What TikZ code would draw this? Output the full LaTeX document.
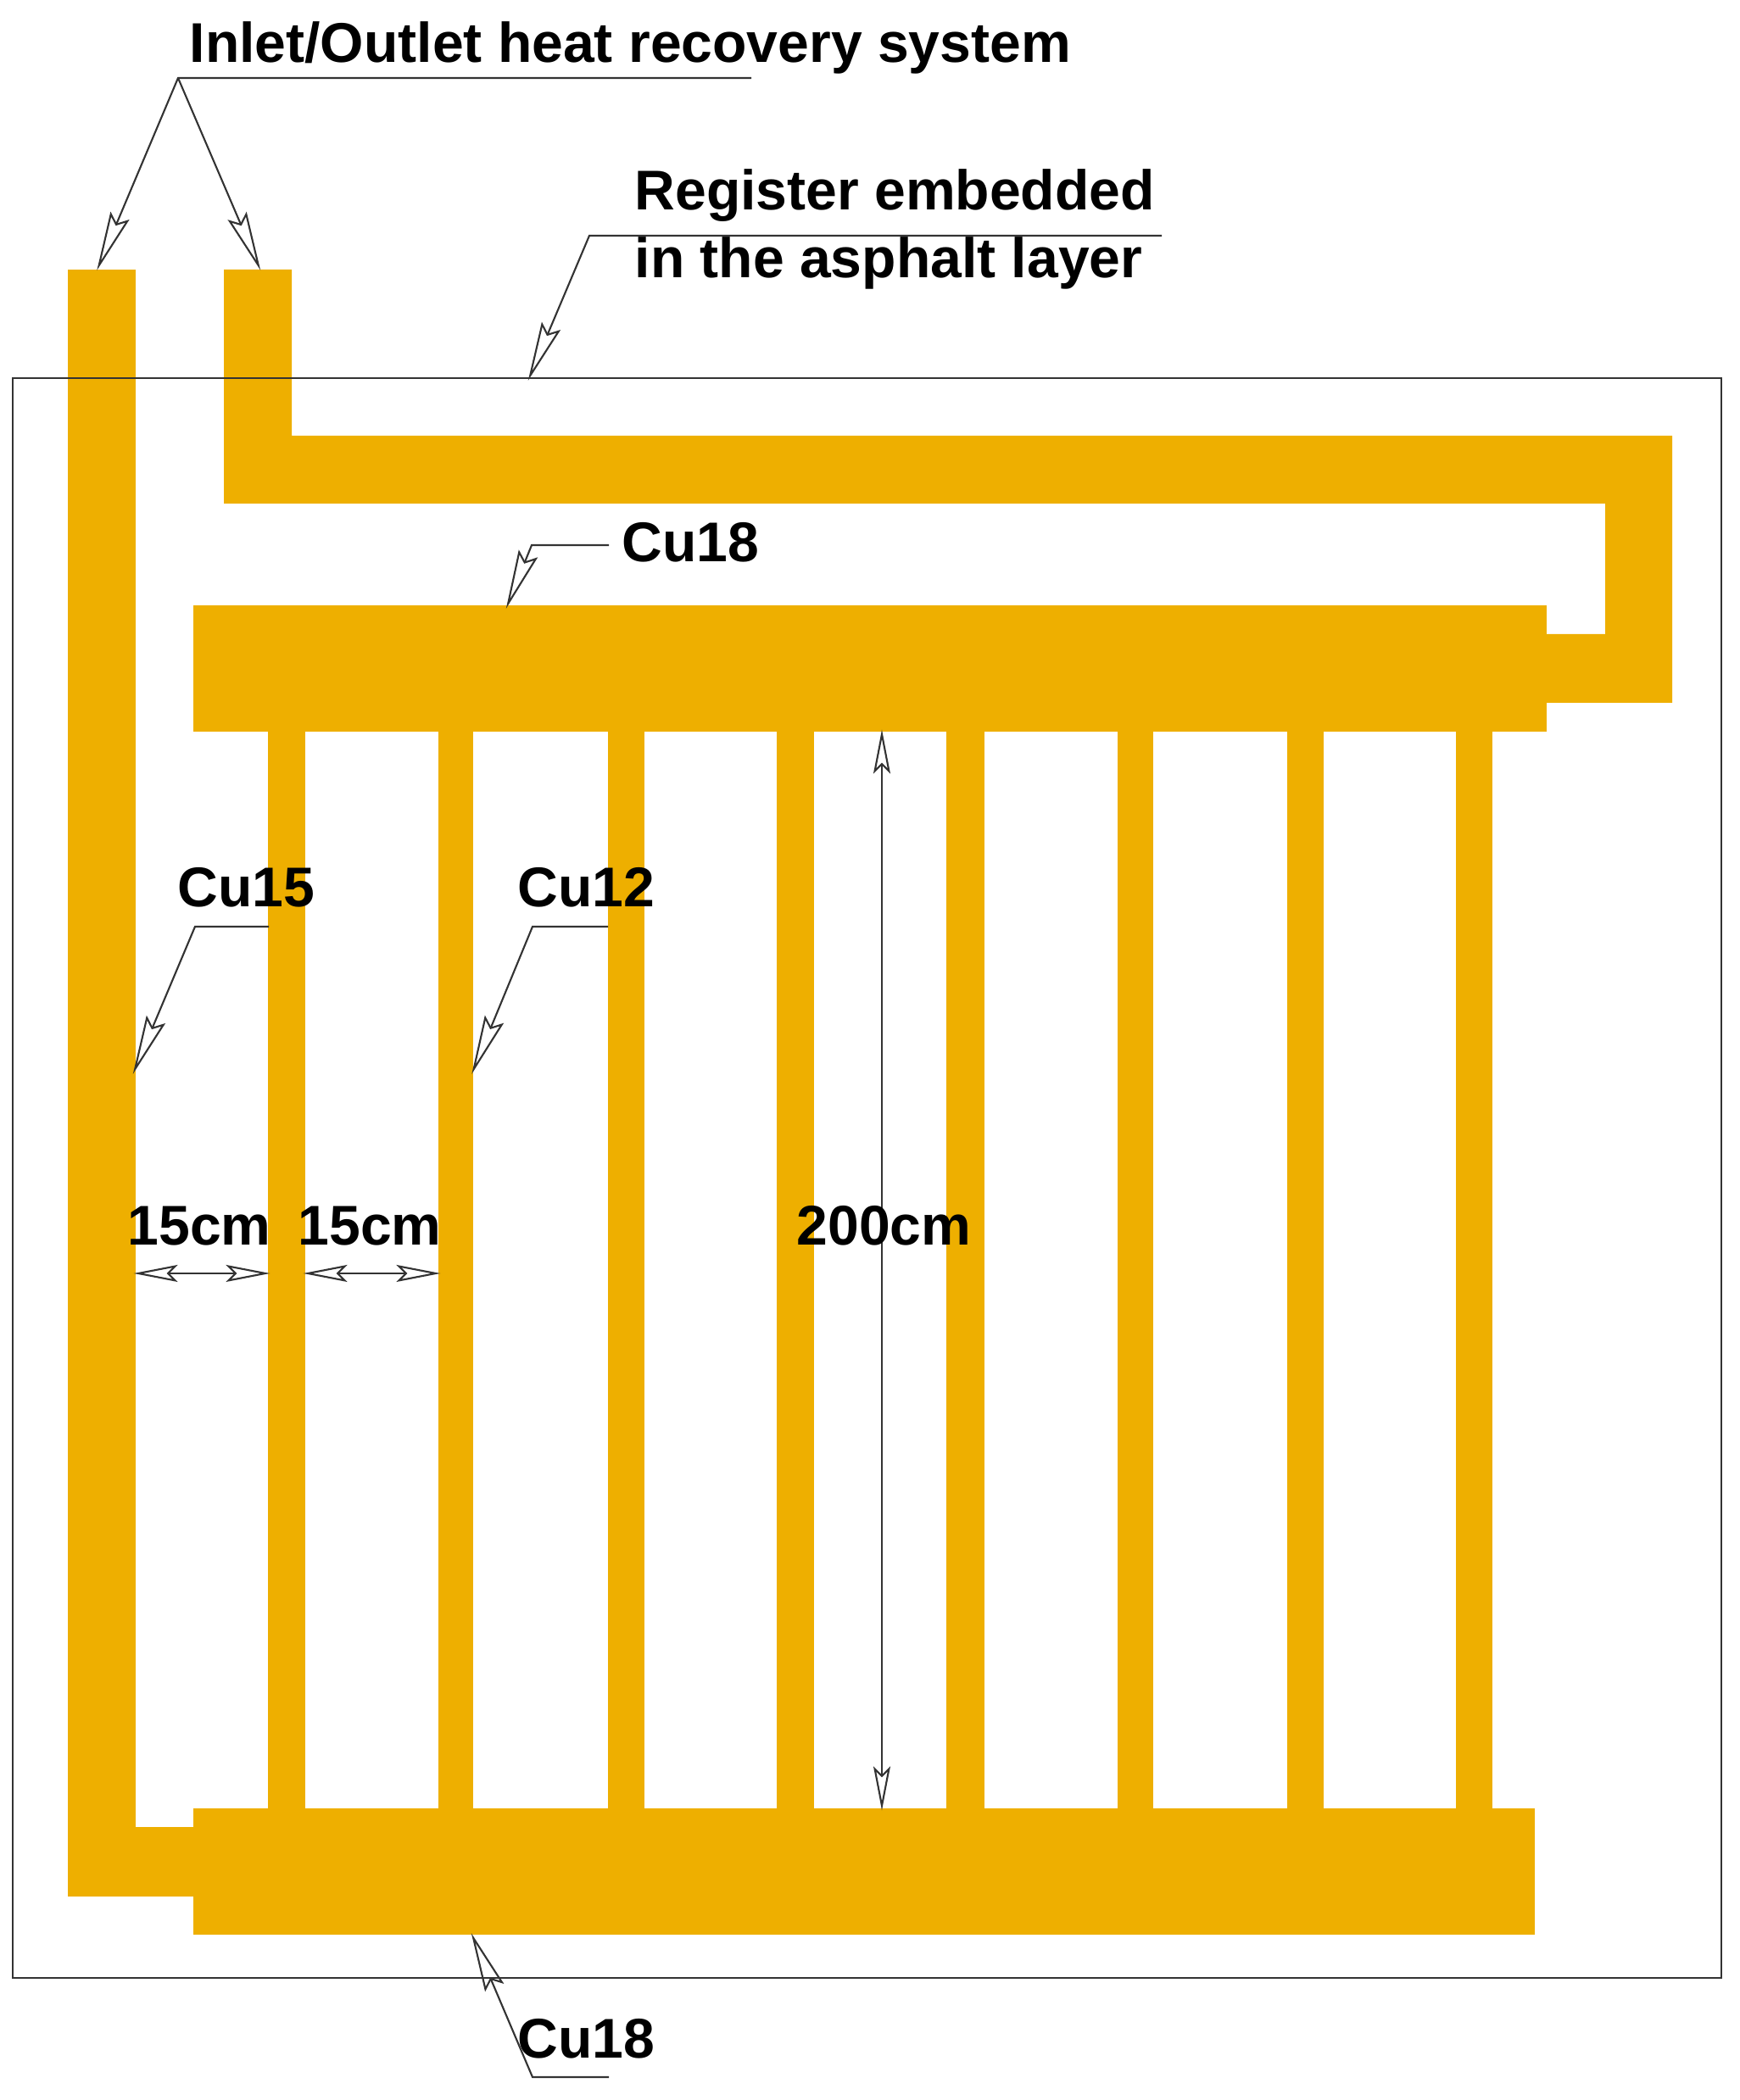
\documentclass[tikz,border=0pt]{standalone}
\usepackage{fontspec}
\setmainfont{Liberation Sans}
\usetikzlibrary{arrows.meta}
\definecolor{pipeorange}{RGB}{238,175,0}
\tikzset{
pipe/.style={fill=pipeorange},
thinline/.style={black!80,line width=0.6pt},
leader/.style={thinline,shorten >=-0.9pt,-{Stealth[open,length=7mm,width=2.4mm,inset=1mm]}},
dimline/.style={thinline,shorten >=-0.7pt,shorten <=-0.7pt,{Stealth[open,length=5.2mm,width=2mm,inset=1mm]}-{Stealth[open,length=5.2mm,width=2mm,inset=1mm]}},
tag/.style={anchor=base west,inner sep=0pt,font=\fontsize{18.8}{22}\selectfont\bfseries}
}
\begin{document}
\begin{tikzpicture}
\useasboundingbox (0,0) rectangle (20.51,24.77);
\fill [pipe] (0.80,21.59) rectangle (1.60,2.40);
\fill [pipe] (0.80,3.22) rectangle (2.28,2.40);
\fill [pipe] (2.64,21.59)--(3.44,21.59)--(3.44,19.63)--(19.72,19.63)--(19.72,16.48)--(18.24,16.48)--(18.24,17.29)--(18.93,17.29)--(18.93,18.83)--(2.64,18.83)--cycle;
\fill [pipe] (2.28,17.63) rectangle (18.24,16.14);
\fill [pipe] (2.28,3.44) rectangle (18.10,1.95);
\fill [pipe] (3.16,16.14) rectangle (3.60,3.44);
\fill [pipe] (5.17,16.14) rectangle (5.58,3.44);
\fill [pipe] (7.17,16.14) rectangle (7.60,3.44);
\fill [pipe] (9.16,16.14) rectangle (9.60,3.44);
\fill [pipe] (11.16,16.14) rectangle (11.61,3.44);
\fill [pipe] (13.18,16.14) rectangle (13.60,3.44);
\fill [pipe] (15.18,16.14) rectangle (15.61,3.44);
\fill [pipe] (17.17,16.14) rectangle (17.60,3.44);
\draw [thinline] (0.15,1.44) rectangle (20.30,20.31);
\coordinate (inletend) at (8.86,23.85);
\coordinate (inletapex) at (2.10,23.85);
\coordinate (inlettip) at (1.155,21.61);
\coordinate (outlettip) at (3.06,21.61);
\coordinate (regend) at (13.70,21.99);
\coordinate (regelbow) at (6.95,21.99);
\coordinate (regtip) at (6.24,20.31);
\coordinate (topend) at (7.18,18.34);
\coordinate (topelbow) at (6.27,18.34);
\coordinate (toptip) at (5.98,17.62);
\coordinate (cuaend) at (3.17,13.84);
\coordinate (cuaelbow) at (2.30,13.84);
\coordinate (cuatip) at (1.58,12.13);
\coordinate (cubend) at (7.17,13.84);
\coordinate (cubelbow) at (6.28,13.84);
\coordinate (cubtip) at (5.575,12.13);
\coordinate (lowend) at (7.18,0.27);
\coordinate (lowelbow) at (6.28,0.27);
\coordinate (lowtip) at (5.57,1.94);
\coordinate (dimaleft) at (1.60,9.75);
\coordinate (dimaright) at (3.16,9.75);
\coordinate (dimbleft) at (3.60,9.75);
\coordinate (dimbright) at (5.17,9.75);
\coordinate (dimtop) at (10.40,16.14);
\coordinate (dimlow) at (10.40,3.44);
\draw [leader] (inletend)--(inletapex)--(inlettip);
\draw [leader] (inletapex)--(outlettip);
\draw [leader] (regend)--(regelbow)--(regtip);
\draw [leader] (topend)--(topelbow)--(toptip);
\draw [leader] (cuaend)--(cuaelbow)--(cuatip);
\draw [leader] (cubend)--(cubelbow)--(cubtip);
\draw [leader] (lowend)--(lowelbow)--(lowtip);
\draw [dimline] (dimaleft)--(dimaright);
\draw [dimline] (dimbleft)--(dimbright);
\draw [dimline] (dimtop)--(dimlow);
\node (inlettag) [tag] at (2.23,24.03) {Inlet/Outlet heat recovery system};
\node (regtag) [tag] at (7.48,22.29) {Register embedded};
\node (asphalttag) [tag] at (7.48,21.49) {in the asphalt layer};
\node (toptag) [tag] at (7.33,18.14) {Cu18};
\node (cuatag) [tag] at (2.09,14.07) {Cu15};
\node (cubtag) [tag] at (6.10,14.07) {Cu12};
\node (lowtag) [tag] at (6.10,0.49) {Cu18};
\node (dimatag) [tag] at (1.50,10.08) {15cm};
\node (dimbtag) [tag] at (3.51,10.08) {15cm};
\node (dimctag) [tag] at (9.39,10.08) {200cm};
\end{tikzpicture}
\end{document}
